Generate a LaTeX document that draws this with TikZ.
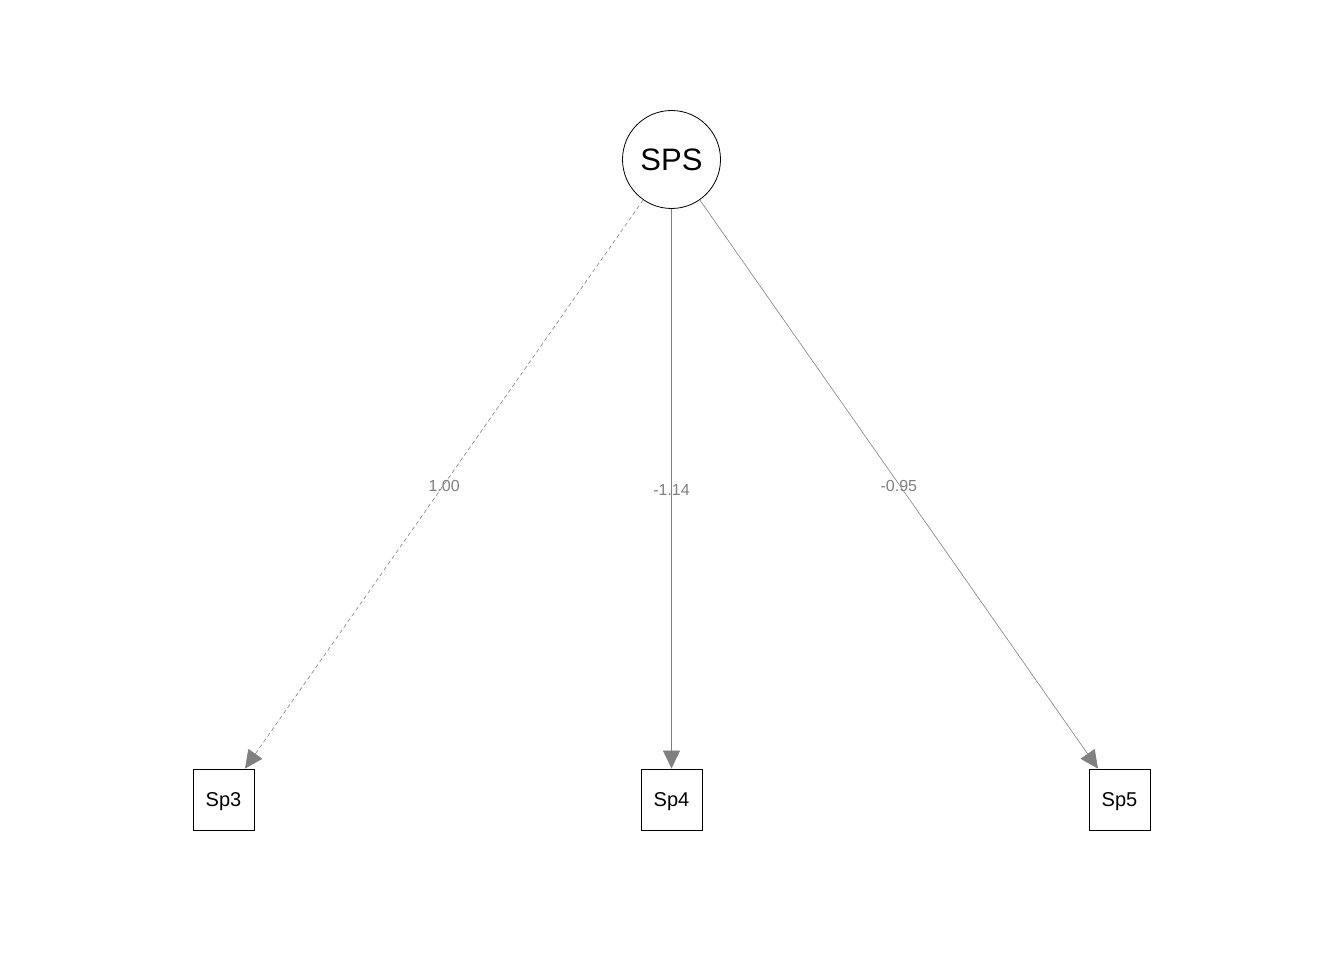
\documentclass[tikz,border=0pt]{standalone}
\usepackage{fontspec}
\setmainfont{Liberation Sans}
\usetikzlibrary{arrows.meta,positioning}

\begin{document}
\begin{tikzpicture}[x=1pt,y=-1pt,node distance=448pt,>={Triangle[length=18pt,width=17pt]}]
  \tikzstyle{latent}=[draw,circle,line width=0.8pt,minimum size=98pt,inner sep=0pt,font=\fontsize{31}{36}\selectfont]
  \tikzstyle{manifest}=[draw,rectangle,line width=0.8pt,minimum size=61pt,inner sep=0pt,text depth=0pt,font=\fontsize{20}{24}\selectfont]
  \tikzstyle{load}=[color=gray,line width=0.6pt]
  \tikzstyle{lbl}=[midway,inner sep=0pt,yshift=-1.5pt,text=gray,font=\fontsize{16}{19}\selectfont]
  \useasboundingbox (0,0) rectangle (1344,960);

  \node[manifest] (sp3) at (223.5,799.5) {Sp3};
  \node[manifest] (sp4) [right of=sp3] {Sp4};
  \node[manifest] (sp5) [right of=sp4] {Sp5};
  \node[latent] (sps) [above of=sp4,node distance=640pt] {SPS};

  \path[->,load]
  (sps) edge[dash pattern=on 4pt off 3pt] node[lbl] {1.00} (sp3)
  (sps) edge node[lbl] {-1.14} (sp4)
  (sps) edge node[lbl] {-0.95} (sp5)
  ;
\end{tikzpicture}
\end{document}
